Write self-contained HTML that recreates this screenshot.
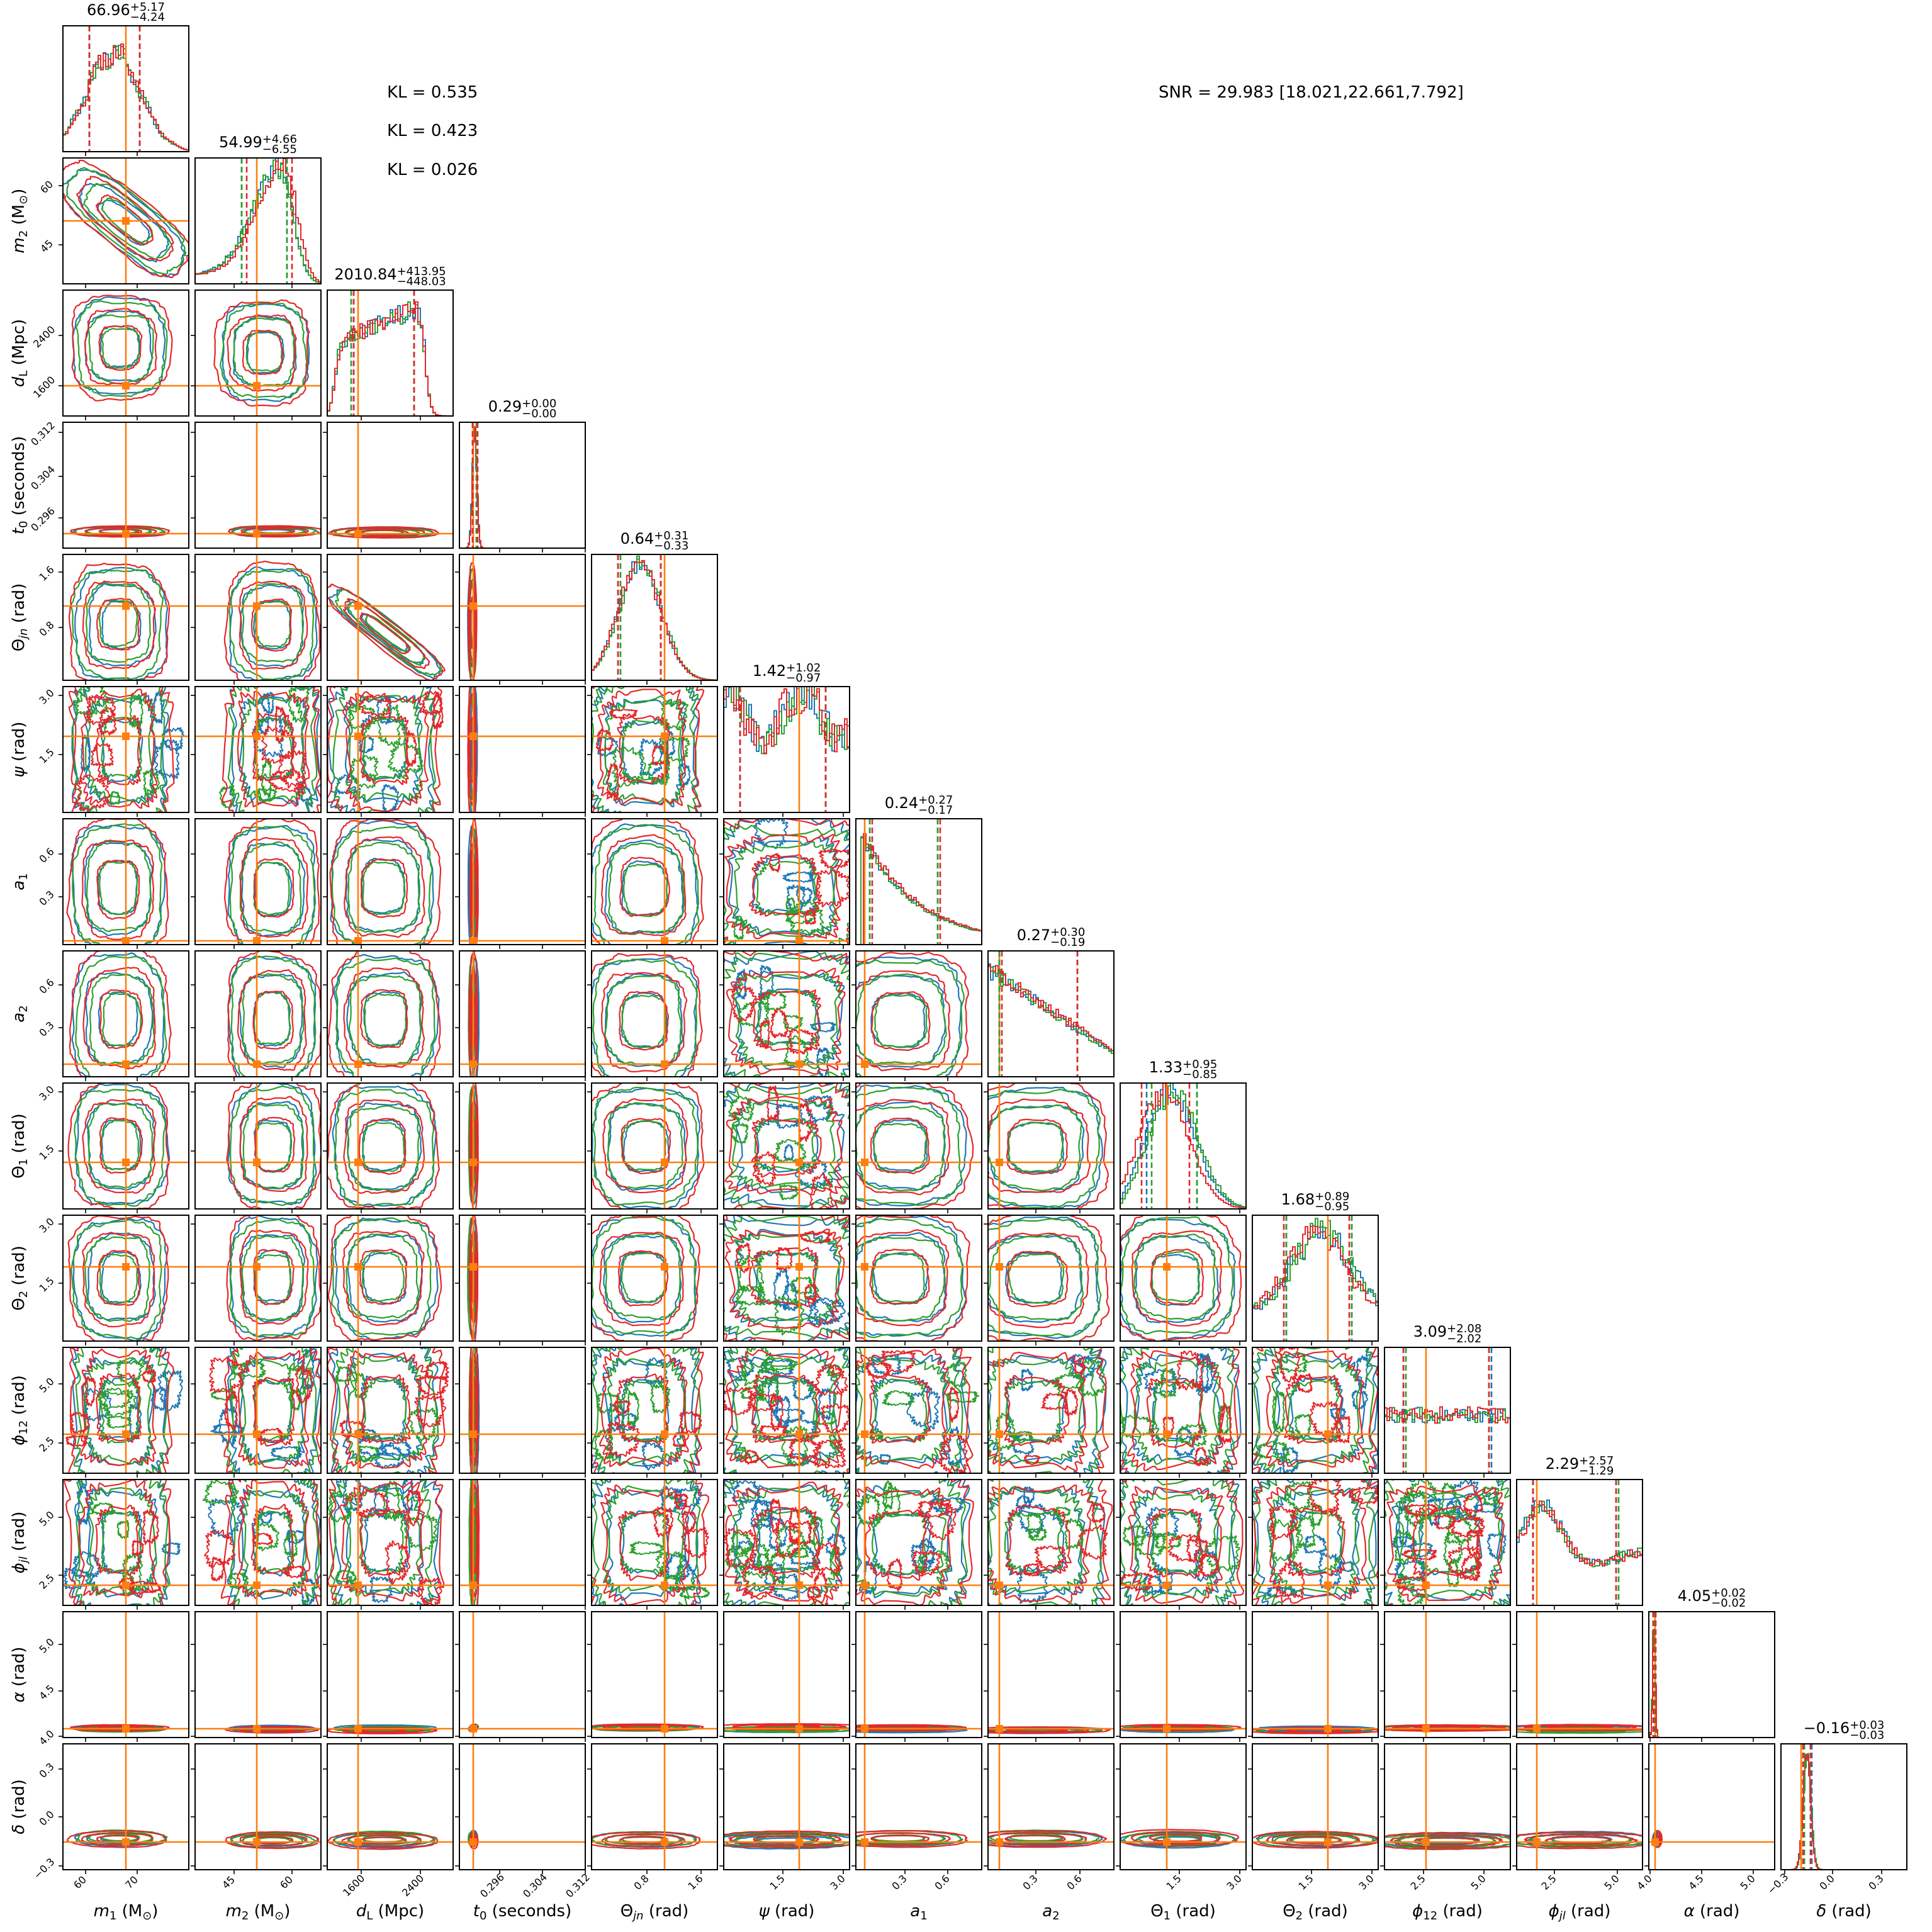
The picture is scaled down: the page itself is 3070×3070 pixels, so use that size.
<!DOCTYPE html>
<html><head><meta charset="utf-8">
<style>
html,body{margin:0;padding:0;background:#fff;}
#wrap{position:relative;width:3070px;height:3070px;overflow:hidden;font-family:"DejaVu Sans","Liberation Sans",sans-serif;}
svg{position:absolute;left:0;top:0;}
.t{position:absolute;width:400px;text-align:center;font-size:24px;line-height:30px;color:#000;white-space:nowrap;}
.ss{display:inline-block;vertical-align:-9px;font-size:18px;line-height:16px;text-align:left;}
.ss b{display:block;font-weight:normal;}
</style></head><body>
<div id="wrap">
<svg id="s" width="3070" height="3070" viewBox="0 0 3070 3070" xmlns="http://www.w3.org/2000/svg">
<defs id="defs"></defs>
<g id="g"></g>
<g font-family="DejaVu Sans, Liberation Sans, sans-serif" fill="#000">
<text x="615" y="155" font-size="26">KL = 0.535</text>
<text x="615" y="216" font-size="26">KL = 0.423</text>
<text x="615" y="278" font-size="26">KL = 0.026</text>
<text x="1841" y="155" font-size="26">SNR = 29.983 [18.021,22.661,7.792]</text>

<g font-size="16" text-anchor="middle">
<text x="131" y="2995" transform="rotate(-45 131 2995)">60</text>
<text x="213" y="2995" transform="rotate(-45 213 2995)">70</text>
<text x="367" y="2995" transform="rotate(-45 367 2995)">45</text>
<text x="459" y="2995" transform="rotate(-45 459 2995)">60</text>
<text x="566" y="3000" transform="rotate(-45 566 3000)">1600</text>
<text x="660" y="3000" transform="rotate(-45 660 3000)">2400</text>
<text x="786" y="3000" transform="rotate(-45 786 3000)">0.296</text>
<text x="854" y="3000" transform="rotate(-45 854 3000)">0.304</text>
<text x="922" y="3000" transform="rotate(-45 922 3000)">0.312</text>
<text x="1023" y="2995" transform="rotate(-45 1023 2995)">0.8</text>
<text x="1109" y="2995" transform="rotate(-45 1109 2995)">1.6</text>
<text x="1239" y="2995" transform="rotate(-45 1239 2995)">1.5</text>
<text x="1335" y="2995" transform="rotate(-45 1335 2995)">3.0</text>
<text x="1433" y="2995" transform="rotate(-45 1433 2995)">0.3</text>
<text x="1501" y="2995" transform="rotate(-45 1501 2995)">0.6</text>
<text x="1641" y="2995" transform="rotate(-45 1641 2995)">0.3</text>
<text x="1711" y="2995" transform="rotate(-45 1711 2995)">0.6</text>
<text x="1869" y="2995" transform="rotate(-45 1869 2995)">1.5</text>
<text x="1965" y="2995" transform="rotate(-45 1965 2995)">3.0</text>
<text x="2079" y="2995" transform="rotate(-45 2079 2995)">1.5</text>
<text x="2175" y="2995" transform="rotate(-45 2175 2995)">3.0</text>
<text x="2257" y="2995" transform="rotate(-45 2257 2995)">2.5</text>
<text x="2353" y="2995" transform="rotate(-45 2353 2995)">5.0</text>
<text x="2465" y="2995" transform="rotate(-45 2465 2995)">2.5</text>
<text x="2565" y="2995" transform="rotate(-45 2565 2995)">5.0</text>
<text x="2617" y="2995" transform="rotate(-45 2617 2995)">4.0</text>
<text x="2699" y="2995" transform="rotate(-45 2699 2995)">4.5</text>
<text x="2781" y="2995" transform="rotate(-45 2781 2995)">5.0</text>
<text x="2829" y="2997" transform="rotate(-45 2829 2997)">−0.3</text>
<text x="2907" y="2995" transform="rotate(-45 2907 2995)">0.0</text>
<text x="2985" y="2995" transform="rotate(-45 2985 2995)">0.3</text>

<text x="78" y="301" transform="rotate(-45 78 301)">60</text>
<text x="78" y="395" transform="rotate(-45 78 395)">45</text>
<text x="74" y="539" transform="rotate(-45 74 539)">2400</text>
<text x="74" y="619" transform="rotate(-45 74 619)">1600</text>
<text x="72" y="693" transform="rotate(-45 72 693)">0.312</text>
<text x="72" y="763" transform="rotate(-45 72 763)">0.304</text>
<text x="72" y="829" transform="rotate(-45 72 829)">0.296</text>
<text x="78" y="915" transform="rotate(-45 78 915)">1.6</text>
<text x="78" y="1003" transform="rotate(-45 78 1003)">0.8</text>
<text x="78" y="1111" transform="rotate(-45 78 1111)">3.0</text>
<text x="78" y="1205" transform="rotate(-45 78 1205)">1.5</text>
<text x="78" y="1363" transform="rotate(-45 78 1363)">0.6</text>
<text x="78" y="1431" transform="rotate(-45 78 1431)">0.3</text>
<text x="78" y="1571" transform="rotate(-45 78 1571)">0.6</text>
<text x="78" y="1639" transform="rotate(-45 78 1639)">0.3</text>
<text x="78" y="1741" transform="rotate(-45 78 1741)">3.0</text>
<text x="78" y="1835" transform="rotate(-45 78 1835)">1.5</text>
<text x="78" y="1951" transform="rotate(-45 78 1951)">3.0</text>
<text x="78" y="2045" transform="rotate(-45 78 2045)">1.5</text>
<text x="78" y="2205" transform="rotate(-45 78 2205)">5.0</text>
<text x="78" y="2299" transform="rotate(-45 78 2299)">2.5</text>
<text x="78" y="2417" transform="rotate(-45 78 2417)">5.0</text>
<text x="78" y="2517" transform="rotate(-45 78 2517)">2.5</text>
<text x="78" y="2619" transform="rotate(-45 78 2619)">5.0</text>
<text x="78" y="2693" transform="rotate(-45 78 2693)">4.5</text>
<text x="78" y="2765" transform="rotate(-45 78 2765)">4.0</text>
<text x="78" y="2817" transform="rotate(-45 78 2817)">0.3</text>
<text x="78" y="2893" transform="rotate(-45 78 2893)">0.0</text>
<text x="74" y="2973" transform="rotate(-45 74 2973)">−0.3</text>
</g>

<g font-size="26" text-anchor="middle">
<text x="200" y="3045"><tspan font-style="italic">m</tspan><tspan font-size="18" dy="5">1</tspan><tspan dy="-5"> (M</tspan><tspan font-size="18" dy="5">⊙</tspan><tspan dy="-5">)</tspan></text>
<text x="410" y="3045"><tspan font-style="italic">m</tspan><tspan font-size="18" dy="5">2</tspan><tspan dy="-5"> (M</tspan><tspan font-size="18" dy="5">⊙</tspan><tspan dy="-5">)</tspan></text>
<text x="620" y="3045"><tspan font-style="italic">d</tspan><tspan font-size="18" dy="5">L</tspan><tspan dy="-5"> (Mpc)</tspan></text>
<text x="830" y="3045"><tspan font-style="italic">t</tspan><tspan font-size="18" dy="5">0</tspan><tspan dy="-5"> (seconds)</tspan></text>
<text x="1040" y="3045">Θ<tspan font-size="18" dy="5" font-style="italic">jn</tspan><tspan dy="-5"> (rad)</tspan></text>
<text x="1250" y="3045"><tspan font-style="italic">ψ</tspan> (rad)</text>
<text x="1460" y="3045"><tspan font-style="italic">a</tspan><tspan font-size="18" dy="5">1</tspan></text>
<text x="1670" y="3045"><tspan font-style="italic">a</tspan><tspan font-size="18" dy="5">2</tspan></text>
<text x="1880" y="3045">Θ<tspan font-size="18" dy="5">1</tspan><tspan dy="-5"> (rad)</tspan></text>
<text x="2090" y="3045">Θ<tspan font-size="18" dy="5">2</tspan><tspan dy="-5"> (rad)</tspan></text>
<text x="2300" y="3045"><tspan font-style="italic">ϕ</tspan><tspan font-size="18" dy="5">12</tspan><tspan dy="-5"> (rad)</tspan></text>
<text x="2510" y="3045"><tspan font-style="italic">ϕ</tspan><tspan font-size="18" dy="5" font-style="italic">jl</tspan><tspan dy="-5"> (rad)</tspan></text>
<text x="2720" y="3045"><tspan font-style="italic">α</tspan> (rad)</text>
<text x="2930" y="3045"><tspan font-style="italic">δ</tspan> (rad)</text>

<text x="38" y="351" transform="rotate(-90 38 351)"><tspan font-style="italic">m</tspan><tspan font-size="18" dy="5">2</tspan><tspan dy="-5"> (M</tspan><tspan font-size="18" dy="5">⊙</tspan><tspan dy="-5">)</tspan></text>
<text x="38" y="561" transform="rotate(-90 38 561)"><tspan font-style="italic">d</tspan><tspan font-size="18" dy="5">L</tspan><tspan dy="-5"> (Mpc)</tspan></text>
<text x="38" y="771" transform="rotate(-90 38 771)"><tspan font-style="italic">t</tspan><tspan font-size="18" dy="5">0</tspan><tspan dy="-5"> (seconds)</tspan></text>
<text x="38" y="981" transform="rotate(-90 38 981)">Θ<tspan font-size="18" dy="5" font-style="italic">jn</tspan><tspan dy="-5"> (rad)</tspan></text>
<text x="38" y="1191" transform="rotate(-90 38 1191)"><tspan font-style="italic">ψ</tspan> (rad)</text>
<text x="38" y="1401" transform="rotate(-90 38 1401)"><tspan font-style="italic">a</tspan><tspan font-size="18" dy="5">1</tspan></text>
<text x="38" y="1611" transform="rotate(-90 38 1611)"><tspan font-style="italic">a</tspan><tspan font-size="18" dy="5">2</tspan></text>
<text x="38" y="1821" transform="rotate(-90 38 1821)">Θ<tspan font-size="18" dy="5">1</tspan><tspan dy="-5"> (rad)</tspan></text>
<text x="38" y="2031" transform="rotate(-90 38 2031)">Θ<tspan font-size="18" dy="5">2</tspan><tspan dy="-5"> (rad)</tspan></text>
<text x="38" y="2241" transform="rotate(-90 38 2241)"><tspan font-style="italic">ϕ</tspan><tspan font-size="18" dy="5">12</tspan><tspan dy="-5"> (rad)</tspan></text>
<text x="38" y="2451" transform="rotate(-90 38 2451)"><tspan font-style="italic">ϕ</tspan><tspan font-size="18" dy="5" font-style="italic">jl</tspan><tspan dy="-5"> (rad)</tspan></text>
<text x="38" y="2661" transform="rotate(-90 38 2661)"><tspan font-style="italic">α</tspan> (rad)</text>
<text x="38" y="2871" transform="rotate(-90 38 2871)"><tspan font-style="italic">δ</tspan> (rad)</text>
</g>
</g>
</svg>

<div class="t" style="left:0px;top:1px">66.96<span class="ss"><b>+5.17</b><b>−4.24</b></span></div>
<div class="t" style="left:210px;top:211px">54.99<span class="ss"><b>+4.66</b><b>−6.55</b></span></div>
<div class="t" style="left:420px;top:421px">2010.84<span class="ss"><b>+413.95</b><b>−448.03</b></span></div>
<div class="t" style="left:630px;top:631px">0.29<span class="ss"><b>+0.00</b><b>−0.00</b></span></div>
<div class="t" style="left:840px;top:841px">0.64<span class="ss"><b>+0.31</b><b>−0.33</b></span></div>
<div class="t" style="left:1050px;top:1051px">1.42<span class="ss"><b>+1.02</b><b>−0.97</b></span></div>
<div class="t" style="left:1260px;top:1261px">0.24<span class="ss"><b>+0.27</b><b>−0.17</b></span></div>
<div class="t" style="left:1470px;top:1471px">0.27<span class="ss"><b>+0.30</b><b>−0.19</b></span></div>
<div class="t" style="left:1680px;top:1681px">1.33<span class="ss"><b>+0.95</b><b>−0.85</b></span></div>
<div class="t" style="left:1890px;top:1891px">1.68<span class="ss"><b>+0.89</b><b>−0.95</b></span></div>
<div class="t" style="left:2100px;top:2101px">3.09<span class="ss"><b>+2.08</b><b>−2.02</b></span></div>
<div class="t" style="left:2310px;top:2311px">2.29<span class="ss"><b>+2.57</b><b>−1.29</b></span></div>
<div class="t" style="left:2520px;top:2521px">4.05<span class="ss"><b>+0.02</b><b>−0.02</b></span></div>
<div class="t" style="left:2730px;top:2731px">−0.16<span class="ss"><b>+0.03</b><b>−0.03</b></span></div>
</div>

<script>
(function(){
const NS='http://www.w3.org/2000/svg';
const G=document.getElementById('g'),D=document.getElementById('defs');
function el(p,t,a){const e=document.createElementNS(NS,t);for(const k in a)e.setAttribute(k,a[k]);p.appendChild(e);return e;}
let seed=12345;function rnd(){seed=(seed*16807)%2147483647;return seed/2147483647;}
const L=j=>100+210*j,T=i=>41+210*i,W=200;
const BL='#1f77b4',GR='#2ca02c',RD='#e3282b',OR='#ff7f0e';
const COLS=[BL,GR,RD];
const truthX=[0.5,0.49,0.245,0.11,0.58,0.6,0.07,0.09,0.37,0.6,0.33,0.16,0.05,0.16];
const truthY=[0,0.5,0.76,0.885,0.41,0.395,0.97,0.9,0.63,0.41,0.69,0.84,0.93,0.78];
const xt=[[0.18,0.59],[0.31,0.77],[0.27,0.74],[0.32,0.66,1],[0.44,0.87],[0.47,0.95],[0.39,0.73],[0.38,0.73],[0.47,0.95],[0.47,0.95],[0.31,0.79],[0.3,0.8],[0.01,0.42,0.83],[0.03,0.41,0.8]];
const yt=[[],[0.22,0.69],[0.36,0.76],[0.08,0.43,0.76],[0.14,0.58],[0.07,0.54],[0.28,0.62],[0.27,0.61],[0.07,0.54],[0.07,0.54],[0.29,0.76],[0.3,0.76],[0.26,0.63,0.99],[0.2,0.58,0.97]];
const P=[
[0.45,0.36,0.5,0.3,0],
[0.62,0.34,0.42,0.34,0],
[0.45,0.4,0.45,0.38,0],
[0.11,0.03,0.87,0.04,0],
[0.42,0.42,0.55,0.44,0],
[0.5,0.56,0.5,0.56,1],
[0.35,0.5,0.55,0.5,0],
[0.38,0.52,0.55,0.5,0],
[0.45,0.45,0.5,0.47,0],
[0.5,0.47,0.5,0.47,0],
[0.5,0.56,0.5,0.56,1],
[0.5,0.56,0.5,0.56,1],
[0.06,0.03,0.93,0.022,0],
[0.2,0.05,0.76,0.06,0]];
function closed(parent,cx,cy,rx,ry,rot,n,noise,hf,color,sw){
  const N=140,ph=[rnd()*6.28,rnd()*6.28,rnd()*6.28,rnd()*6.28];
  let d='';
  for(let k=0;k<N;k++){
    const t=k/N*2*Math.PI,c=Math.cos(t),s=Math.sin(t);
    let x=Math.sign(c)*Math.pow(Math.abs(c),2/n),y=Math.sign(s)*Math.pow(Math.abs(s),2/n);
    let r=1+noise*(0.5*Math.sin(3*t+ph[0])+0.3*Math.sin(7*t+ph[1])+0.2*Math.sin(13*t+ph[2])+hf*Math.sin(23*t+ph[3]))+noise*0.35*(rnd()-0.5);
    x*=rx*r;y*=ry*r;
    const X=cx+x*Math.cos(rot)-y*Math.sin(rot),Y=cy+x*Math.sin(rot)+y*Math.cos(rot);
    d+=(k?'L':'M')+X.toFixed(1)+','+Y.toFixed(1);
  }
  el(parent,'path',{d:d+'Z',fill:'none',stroke:color,'stroke-width':sw||2.2,'stroke-linejoin':'round'});
}
function clip(id,x,y){const c=el(D,'clipPath',{id:id});el(c,'rect',{x:x,y:y,width:W,height:W});}
for(let i=1;i<14;i++)for(let j=0;j<i;j++){
  const x0=L(j),y0=T(i),id='c'+i+'_'+j;clip(id,x0,y0);
  const g=el(G,'g',{'clip-path':'url(#'+id+')'});
  const px=P[j],py=P[i];
  let cx=px[0],sx=px[1],cy=py[2],sy=py[3],rot=0;
  const uni=px[4]||py[4];
  const narrow=(sx<0.1||sy<0.1);
  if(i==1&&j==0){cx=0.5;cy=0.5;sx=0.56;sy=0.2;rot=0.68;}
  if(i==4&&j==2){cx=0.47;cy=0.62;sx=0.52;sy=0.1;rot=0.66;}
  if(i==2&&j==1){cx=0.55;cy=0.5;}
  const n=narrow?2.2:(uni?5:3.2);
  const noise=narrow?0.04:(uni?0.1:0.06);
  const hf=uni?0.5:0.2;
  COLS.forEach((col,ci)=>{
    const sc=[1.0,0.97,1.08][ci];
    const ox=(rnd()-0.5)*0.03,oy=(rnd()-0.5)*0.03;
    [0.42,0.72,1.0].forEach(lv=>{
      closed(g,x0+(cx+ox)*W,y0+(cy+oy)*W,sx*W*lv*sc,sy*W*lv*sc,rot,n,noise,hf,col);
    });
    if(uni&&!narrow){
      const nb=(px[4]&&py[4])?9:4;
      for(let b=0;b<nb;b++){closed(g,x0+(0.1+0.8*rnd())*W,y0+(0.1+0.8*rnd())*W,6+rnd()*18,6+rnd()*22,0,3,0.2,0.5,col,2);}
    }
  });
  const tx=x0+truthX[j]*W,ty=y0+truthY[i]*W;
  el(g,'line',{x1:tx,y1:y0,x2:tx,y2:y0+W,stroke:OR,'stroke-width':2.6});
  el(g,'line',{x1:x0,y1:ty,x2:x0+W,y2:ty,stroke:OR,'stroke-width':2.6});
  el(g,'rect',{x:tx-6,y:ty-6,width:12,height:12,fill:OR});
}
const gs=(x,m,s)=>Math.exp(-0.5*((x-m)/s)*((x-m)/s));
const sg=x=>1/(1+Math.exp(-x));
const F=[
 x=>0.85*gs(x,0.4,0.21)*(1+0.06*Math.sin(x*30)),
 x=>x<0.68?0.08+0.92*gs(x,0.68,0.22)*(x>0.02?1:0):gs(x,0.68,0.1),
 x=>sg((x-0.06)/0.02)*sg((0.78-x)/0.02)*(0.6+0.35*x/0.75),
 x=>gs(x,0.12,0.018),
 x=>gs(x,0.38,0.17),
 x=>0.85+0.22*Math.cos(2*Math.PI*(x-0.62)/0.6),
 x=>x<0.04?0:0.95*Math.exp(-(x-0.04)/0.45),
 x=>0.92-0.72*x,
 x=>gs(x,0.4,0.2)*sg(x/0.03),
 x=>0.25+0.7*gs(x,0.55,0.22),
 x=>0.5,
 x=>0.3+0.55*gs(x,0.2,0.16)+0.15*gs(x,1.0,0.25),
 x=>gs(x,0.04,0.01),
 x=>gs(x,0.21,0.03)];
const NZ=[0.1,0.1,0.1,0.05,0.08,0.22,0.06,0.08,0.1,0.15,0.14,0.1,0.05,0.05];
const SH=[[0,0,0.01],[0,0,0.03],[0,0,0],[0,0.002,0.003],[0,0.01,0],[0,0,0],[0,0,0.02],[0,0,0.02],[0,0.02,-0.05],[0,0,-0.04],[0,0,0],[0,0,0.01],[0,0,0.002],[0,0,-0.005]];
for(let k=0;k<14;k++){
  const x0=L(k),y0=T(k),yb=y0+W,id='h'+k;clip(id,x0,y0);
  const g=el(G,'g',{'clip-path':'url(#'+id+')'});
  const nb=(k==3||k==12||k==13)?100:50;
  const qs=[];
  COLS.forEach((col,ci)=>{
    let h=[];
    for(let b=0;b<nb;b++){const x=(b+0.5)/nb-SH[k][ci];let v=F[k](x);v*=1+NZ[k]*(rnd()-0.5)*2;h.push(Math.max(0,v));}
    let d='M'+x0+','+yb;
    for(let b=0;b<nb;b++){const X=x0+b*W/nb,Y=yb-h[b]*185;d+='L'+X.toFixed(1)+','+Y.toFixed(1)+'L'+(X+W/nb).toFixed(1)+','+Y.toFixed(1);}
    d+='L'+(x0+W)+','+yb;
    el(g,'path',{d:d,fill:'none',stroke:col,'stroke-width':2});
    const tot=h.reduce((a,b)=>a+b,0);let cs=0,q1=null,q2=null;
    for(let b=0;b<nb;b++){cs+=h[b];if(q1===null&&cs>=0.16*tot)q1=(b+0.5)/nb;if(q2===null&&cs>=0.84*tot)q2=(b+0.5)/nb;}
    qs.push([col,q1,q2]);
  });
  const tx=x0+truthX[k]*W;
  el(g,'line',{x1:tx,y1:y0,x2:tx,y2:yb,stroke:OR,'stroke-width':2.6});
  qs.forEach(q=>{[q[1],q[2]].forEach(v=>{const X=x0+v*W;el(g,'line',{x1:X,y1:y0,x2:X,y2:yb,stroke:q[0],'stroke-width':2.6,'stroke-dasharray':'9 5'});});});
}
for(let i=0;i<14;i++)for(let j=0;j<=i;j++){
  const x0=L(j),y0=T(i);
  el(G,'rect',{x:x0,y:y0,width:W,height:W,fill:'none',stroke:'#000','stroke-width':2});
  xt[j].forEach(f=>{const X=x0+f*W;el(G,'line',{x1:X,y1:y0+W,x2:X,y2:y0+W+7,stroke:'#000','stroke-width':1.6});});
  if(j<i)yt[i].forEach(f=>{const Y=y0+f*W;el(G,'line',{x1:x0,y1:Y,x2:x0-7,y2:Y,stroke:'#000','stroke-width':1.6});});
}
})();
</script>
</body></html>
